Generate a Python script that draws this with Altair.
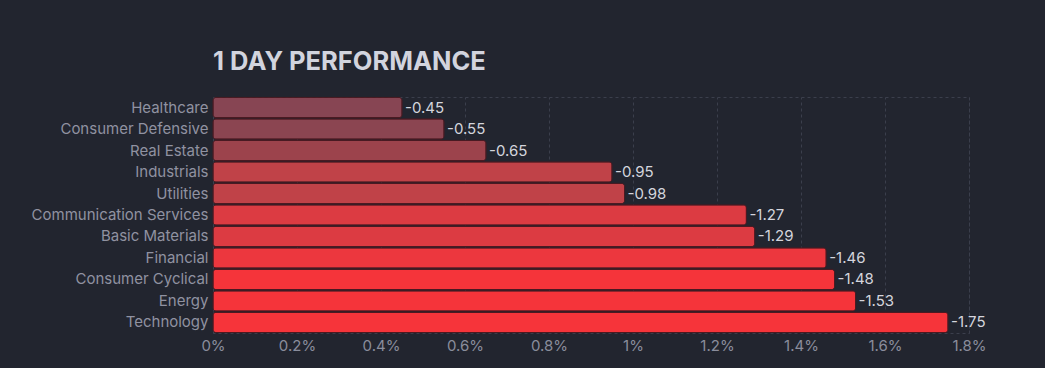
import altair as alt
import pandas as pd
import jinja2

sectors = ["Healthcare", "Consumer Defensive", "Real Estate", "Industrials", "Utilities",
           "Communication Services", "Basic Materials", "Financial", "Consumer Cyclical",
           "Energy", "Technology"]
changes = [-0.45, -0.55, -0.65, -0.95, -0.98, -1.27, -1.29, -1.46, -1.48, -1.53, -1.75]
bar_colors = ["#874553", "#8b4551", "#9c434c", "#c04248", "#c04248", "#dc3b42",
              "#dc3b42", "#ec373e", "#f5343a", "#f5343a", "#f6343a"]
x_ticks = [0, 0.2, 0.4, 0.6, 0.8, 1.0, 1.2, 1.4, 1.6, 1.8]

BG = "#22252f"
FONT = "Inter"

df = pd.DataFrame({"sector": sectors, "change": changes})

base = alt.Chart(df).transform_calculate(
    mag="-datum.change",
    lbl="'-' + format(-datum.change, '.2f')"
)

y_enc = alt.Y("sector:N", sort=sectors, title=None,
              scale=alt.Scale(paddingInner=0.06, paddingOuter=0.02),
              axis=alt.Axis(labelFont=FONT, labelFontSize=15, labelColor="#9092a1",
                            labelPadding=5, domain=False, ticks=False, grid=False))

x_enc = alt.X("mag:Q", title=None,
              scale=alt.Scale(domain=[0, 1.8], nice=False),
              axis=alt.Axis(values=x_ticks, labelExpr="format(datum.value, '~g') + '%'",
                            labelFont=FONT, labelFontSize=15, labelColor="#8a8d9c",
                            labelPadding=5, domain=False, ticks=False,
                            grid=True, gridColor="#3b3f4c", gridDash=[3, 3],
                            labelFlush=False))

bars = base.mark_bar(cornerRadius=3, stroke="#4a1a22", strokeWidth=1).encode(
    x=x_enc,
    y=y_enc,
    color=alt.Color("sector:N", scale=alt.Scale(domain=sectors, range=bar_colors), legend=None),
)

labels = base.mark_text(align="left", baseline="middle", dx=3, font=FONT,
                        fontSize=15, color="#d4d5dd").encode(
    x="mag:Q",
    y=alt.Y("sector:N", sort=sectors),
    text="lbl:N",
)

chart = (bars + labels).properties(
    width=756, height=236,
    background=BG,
    padding={"left": 23, "top": 42, "right": 40, "bottom": 20},
    title=alt.TitleParams("1 DAY PERFORMANCE", anchor="start", frame="group", font=FONT,
                          fontSize=25.5, fontWeight="bold", color="#d2d4de", offset=21),
).configure_view(stroke="#3b3f4c", strokeDash=[3, 3], strokeWidth=1)

PAGE = jinja2.Template("""<!DOCTYPE html>
<html>
<head>
  <style>
    html, body { background: """ + BG + """; margin: 0; padding: 0; }
    #{{ output_div }}.vega-embed { width: 100%; display: flex; }
  </style>
  <script type="text/javascript" src="{{ base_url }}/vega@{{ vega_version }}"></script>
  <script type="text/javascript" src="{{ base_url }}/vega-lite@{{ vegalite_version }}"></script>
  <script type="text/javascript" src="{{ base_url }}/vega-embed@{{ vegaembed_version }}"></script>
</head>
<body>
  <div id="{{ output_div }}" style="padding: 8px;"></div>
  <script type="text/javascript">
    (function(vegaEmbed) {
      var spec = {{ spec }};
      var embedOpt = {{ embed_options }};
      const el = document.getElementById('{{ output_div }}');
      vegaEmbed("#{{ output_div }}", spec, embedOpt).catch(function(err) {
        el.innerHTML = '<pre>' + err + '</pre>';
      });
    })(vegaEmbed);
  </script>
</body>
</html>
""")

chart.save("out.html", embed_options={"renderer": "svg", "actions": False}, template=PAGE)
